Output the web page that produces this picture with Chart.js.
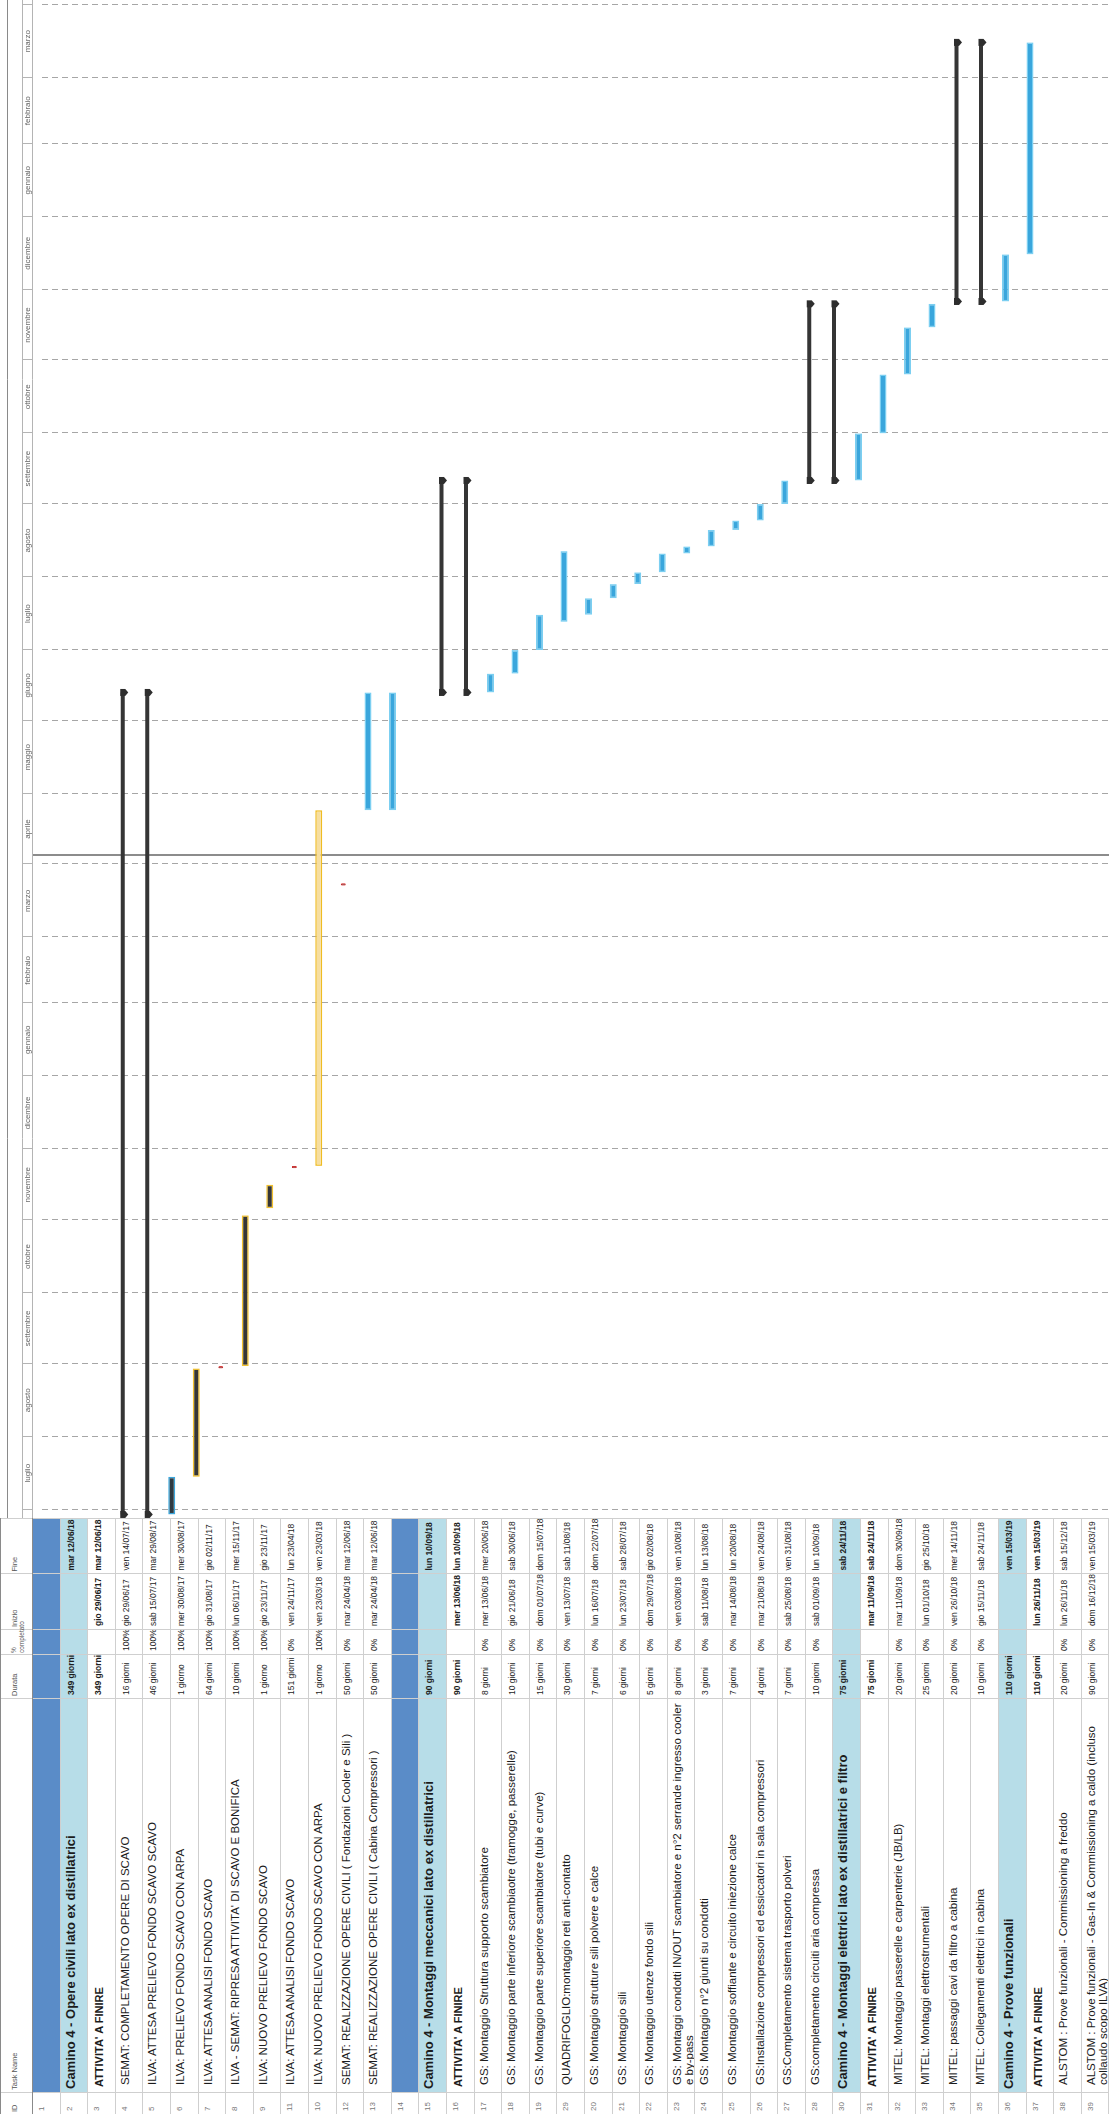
<!DOCTYPE html>
<html>
<head>
<meta charset="utf-8">
<script src="https://cdn.jsdelivr.net/npm/chart.js@4.4.0/dist/chart.umd.min.js"></script>
<style>
    html, body { margin: 0; padding: 0; background: #fff; }
    body { width: 1109px; height: 2114px; overflow: hidden; position: relative; }
    /* the whole Gantt view is laid out in landscape and turned a quarter turn */
    #sheet {
        position: absolute; left: 0; top: 0;
        width: 2114px; height: 1109px;
        transform-origin: 0 0;
        transform: translateY(2114px) rotate(-90deg);
        font-family: "Liberation Sans", Arial, sans-serif;
        background: #fff;
    }
    #table { position: absolute; left: 0; top: 0; width: 596px; height: 1109px; border-right: 1px solid #9a9a9a; box-sizing: border-box; }
    #chartBox { position: absolute; left: 596px; top: 0; width: 1518px; height: 1109px; }
    .row { position: absolute; left: 0; width: 596px; box-sizing: border-box; border-bottom: 1px solid #cfcfcf; }
    .cell { position: absolute; top: 0; height: 100%; box-sizing: border-box; border-right: 1px solid #cfcfcf; overflow: hidden; color: #1c1c1c; }
    .head .cell { font-size: 7.5px; color: #555; padding: 9px 2px 0 2px; line-height: 9px; }
    .head .cell.narrow { font-size: 6.5px; line-height: 8px; padding-left: 1px; overflow: visible; }
    .id { font-size: 8px; color: #777; padding: 4px 0 0 3px; }
    .name { font-size: 11.5px; line-height: 12px; padding-top: 3px; padding-right: 1px; }
    .num { font-size: 8.5px; padding: 5px 0 0 3px; white-space: nowrap; }
    .lvl1 .name { font-size: 13px; font-weight: bold; padding-top: 4px; }
    .lvl2 .name { font-size: 11px; font-weight: bold; padding-top: 5px; }
    .lvl1 .num, .lvl2 .num { font-weight: bold; }
</style>
</head>
<body>
<div id="sheet">
    <div id="table"></div>
    <div id="chartBox"><canvas id="gantt" width="1518" height="1109" style="width:1518px;height:1109px"></canvas></div>
</div>
<script>
// ---- data, in the order the rows are shown ----
const ROW_IDS = [1, 2, 3, 4, 5, 6, 7, 8, 9, 11, 10, 12, 13, 14, 15, 16, 17, 18, 19, 29, 20, 21, 22, 23, 24, 25, 26, 27, 28, 30, 31, 32, 33, 34, 35, 36, 37, 38, 39];

// outline level: 0 = blank band, 1 = phase, 2 = summary, 3 = task
const LEVELS = [0, 1, 2, 3, 3, 3, 3, 3, 3, 3, 3, 3, 3, 0, 1, 2, 3, 3, 3, 3, 3, 3, 3, 3, 3, 3, 3, 3, 3, 1, 2, 3, 3, 3, 3, 1, 2, 3, 3];

const TASK_NAMES = [
    '',
    'Camino 4 - Opere civili lato ex distillatrici',
    "ATTIVITA' A FINIRE",
    'SEMAT: COMPLETAMENTO OPERE DI SCAVO',
    'ILVA: ATTESA PRELIEVO FONDO SCAVO SCAVO',
    'ILVA: PRELIEVO FONDO SCAVO CON ARPA',
    'ILVA: ATTESA ANALISI FONDO SCAVO',
    "ILVA - SEMAT: RIPRESA ATTIVITA' DI SCAVO E BONIFICA",
    'ILVA: NUOVO PRELIEVO FONDO SCAVO',
    'ILVA: ATTESA ANALISI FONDO SCAVO',
    'ILVA: NUOVO PRELIEVO FONDO SCAVO CON ARPA',
    'SEMAT: REALIZZAZIONE OPERE CIVILI ( Fondazioni Cooler e Sili )',
    'SEMAT: REALIZZAZIONE OPERE CIVILI ( Cabina Compressori )',
    '',
    'Camino 4 - Montaggi meccanici lato ex distillatrici',
    "ATTIVITA' A FINIRE",
    'GS: Montaggio Struttura supporto scambiatore',
    'GS: Montaggio parte inferiore scambiaotre (tramogge, passerelle)',
    'GS: Montaggio parte superiore scambiatore (tubi e curve)',
    'QUADRIFOGLIO:montaggio reti anti-contatto',
    'GS: Montaggio strutture sili polvere e calce',
    'GS: Montaggio sili',
    'GS: Montaggio utenze fondo sili',
    'GS: Montaggi condotti IN/OUT scambiatore e n°2 serrande ingresso cooler e by-pass',
    'GS: Montaggio n°2 giunti su condotti',
    'GS: Montaggio soffiante e circuito iniezione calce',
    'GS:Installazione compressori ed essiccatori in sala compressori',
    'GS:Completamento sistema trasporto polveri',
    'GS:completamento circuiti aria compressa',
    'Camino 4 - Montaggi elettrici lato ex distillatrici e filtro',
    "ATTIVITA' A FINIRE",
    'MITEL: Montaggio passerelle e carpenterie (JB/LB)',
    'MITEL: Montaggi elettrostrumentali',
    'MITEL: passaggi cavi da filtro a cabina',
    'MITEL: Collegamenti elettrici in cabina',
    'Camino 4 - Prove funzionali',
    "ATTIVITA' A FINIRE",
    'ALSTOM : Prove funzionali - Commissioning a freddo',
    'ALSTOM : Prove funzionali - Gas-In & Commissioning a caldo (incluso collaudo scopo ILVA)'
];

const DURATIONS = [
    '', '349 giorni', '349 giorni', '16 giorni', '46 giorni', '1 giorno', '64 giorni', '10 giorni', '1 giorno', '151 giorni',
    '1 giorno', '50 giorni', '50 giorni', '', '90 giorni', '90 giorni', '8 giorni', '10 giorni', '15 giorni', '30 giorni',
    '7 giorni', '6 giorni', '5 giorni', '8 giorni', '3 giorni', '7 giorni', '4 giorni', '7 giorni', '10 giorni',
    '75 giorni', '75 giorni', '20 giorni', '25 giorni', '20 giorni', '10 giorni', '110 giorni', '110 giorni', '20 giorni', '90 giorni'
];

const COMPLETE = [
    '', '', '', '100%', '100%', '100%', '100%', '100%', '100%', '0%',
    '100%', '0%', '0%', '', '', '', '0%', '0%', '0%', '0%',
    '0%', '0%', '0%', '0%', '0%', '0%', '0%', '0%', '0%',
    '', '', '0%', '0%', '0%', '0%', '', '', '0%', '0%'
];

const START_TEXT = [
    '', 'gio 29/06/17', 'gio 29/06/17', 'gio 29/06/17', 'sab 15/07/17', 'mer 30/08/17', 'gio 31/08/17', 'lun 06/11/17', 'gio 23/11/17', 'ven 24/11/17',
    'ven 23/03/18', 'mar 24/04/18', 'mar 24/04/18', '', 'mer 13/06/18', 'mer 13/06/18', 'mer 13/06/18', 'gio 21/06/18', 'dom 01/07/18', 'ven 13/07/18',
    'lun 16/07/18', 'lun 23/07/18', 'dom 29/07/18', 'ven 03/08/18', 'sab 11/08/18', 'mar 14/08/18', 'mar 21/08/18', 'sab 25/08/18', 'sab 01/09/18',
    'mar 11/09/18', 'mar 11/09/18', 'mar 11/09/18', 'lun 01/10/18', 'ven 26/10/18', 'gio 15/11/18', 'lun 26/11/18', 'lun 26/11/18', 'lun 26/11/18', 'dom 16/12/18'
];

const FINISH_TEXT = [
    '', 'mar 12/06/18', 'mar 12/06/18', 'ven 14/07/17', 'mar 29/08/17', 'mer 30/08/17', 'gio 02/11/17', 'mer 15/11/17', 'gio 23/11/17', 'lun 23/04/18',
    'ven 23/03/18', 'mar 12/06/18', 'mar 12/06/18', '', 'lun 10/09/18', 'lun 10/09/18', 'mer 20/06/18', 'sab 30/06/18', 'dom 15/07/18', 'sab 11/08/18',
    'dom 22/07/18', 'sab 28/07/18', 'gio 02/08/18', 'ven 10/08/18', 'lun 13/08/18', 'lun 20/08/18', 'ven 24/08/18', 'ven 31/08/18', 'lun 10/09/18',
    'sab 24/11/18', 'sab 24/11/18', 'dom 30/09/18', 'gio 25/10/18', 'mer 14/11/18', 'sab 24/11/18', 'ven 15/03/19', 'ven 15/03/19', 'sab 15/12/18', 'ven 15/03/19'
];

const HEADERS = ['ID', 'Task Name', 'Durata', '%<br>completato', 'Inizio', 'Fine'];
const MONTH_NAMES = ['gennaio', 'febbraio', 'marzo', 'aprile', 'maggio', 'giugno', 'luglio', 'agosto', 'settembre', 'ottobre', 'novembre', 'dicembre'];

// visible time span and status date
const AXIS_FROM = '27/06/17';
const AXIS_TO = '03/04/19';
const STATUS_DATE = '05/04/18';

// ---- helpers ----
function dayOf(text) {
    const m = text.match(/(\d\d)\/(\d\d)\/(\d\d)/);
    return Date.UTC(2000 + Number(m[3]), Number(m[2]) - 1, Number(m[1])) / 86400000;
}

const COLUMNS = [22, 394, 44, 25, 55.5, 55.5];
const HEAD_H = 33;
const ROW_H = 27.6;

function buildTable() {
    const table = document.getElementById('table');
    const lefts = [];
    COLUMNS.reduce((acc, w) => { lefts.push(acc); return acc + w; }, 0);

    const head = document.createElement('div');
    head.className = 'row head';
    head.style.top = '0px';
    head.style.height = HEAD_H + 'px';
    head.style.borderTop = '1px solid #8a8a8a';
    head.style.borderBottom = '1px solid #8a8a8a';
    HEADERS.forEach((h, i) => {
        const c = document.createElement('div');
        c.className = 'cell' + (i === 3 ? ' narrow' : '');
        c.style.left = lefts[i] + 'px';
        c.style.width = COLUMNS[i] + 'px';
        c.innerHTML = h;
        head.appendChild(c);
    });
    table.appendChild(head);

    ROW_IDS.forEach((id, i) => {
        const lvl = LEVELS[i];
        const row = document.createElement('div');
        row.className = 'row lvl' + lvl;
        row.style.top = (HEAD_H + i * ROW_H) + 'px';
        row.style.height = ROW_H + 'px';
        const fill = lvl === 0 ? '#5a8cc8' : (lvl === 1 ? '#b7dde8' : '');
        const values = [id, TASK_NAMES[i], DURATIONS[i], COMPLETE[i], lvl === 1 ? '' : START_TEXT[i], FINISH_TEXT[i]];
        values.forEach((v, j) => {
            const c = document.createElement('div');
            c.className = 'cell ' + (j === 0 ? 'id' : (j === 1 ? 'name' : 'num'));
            c.style.left = lefts[j] + 'px';
            c.style.width = COLUMNS[j] + 'px';
            if (j === 1) c.style.paddingLeft = (lvl === 1 ? 3 : lvl === 2 ? 5 : 7) + 'px';
            if (j > 0 && fill) c.style.background = fill;
            c.textContent = v;
            row.appendChild(c);
        });
        table.appendChild(row);
    });
}

// ---- bars ----
const rows = ROW_IDS.map((id, i) => ({
    row: i + 1,
    level: LEVELS[i],
    name: TASK_NAMES[i],
    dur: DURATIONS[i],
    pct: COMPLETE[i],
    start: START_TEXT[i],
    finish: FINISH_TEXT[i]
}));

const summaryData = [];
const taskData = [];
const dotData = [];
rows.forEach(r => {
    if (r.level === 0) return;
    const s = dayOf(r.start);
    const e = dayOf(r.finish) + 1;
    const kind = (r.name.startsWith('ILVA') ? 'yellow' : 'blue') + (r.pct === '100%' ? 'Done' : '');
    if (r.level < 3) summaryData.push({ x: [s, e], y: r.row });
    else if (r.dur === '1 giorno') dotData.push({ x: [s, e], y: r.row, kind });
    else taskData.push({ x: [s, e], y: r.row, kind });
});

const STYLE = {
    blue: { fill: '#3aa6dc', edge: '#7ccff1' },
    blueDone: { fill: '#2e3a42', edge: '#3aa6dc' },
    yellow: { fill: '#f6dea0', edge: '#efbc22' },
    yellowDone: { fill: '#363636', edge: '#f2c12e' }
};

const ganttDecor = {
    id: 'ganttDecor',
    beforeDatasetsDraw(chart) {
        const { ctx, chartArea: { left, right, top, bottom }, scales: { x } } = chart;
        ctx.save();
        // timescale tiers
        ctx.strokeStyle = '#8a8a8a';
        ctx.lineWidth = 1;
        ctx.beginPath();
        ctx.moveTo(left, 7.5); ctx.lineTo(right, 7.5);
        ctx.stroke();
        ctx.strokeStyle = '#b4b4b4';
        ctx.beginPath();
        ctx.moveTo(left, 22.5); ctx.lineTo(right, 22.5);
        ctx.moveTo(left, top - 0.5); ctx.lineTo(right, top - 0.5);
        ctx.stroke();

        // month boundaries and labels
        const from = new Date(dayOf(AXIS_FROM) * 86400000);
        let y = from.getUTCFullYear(), m = from.getUTCMonth();
        ctx.font = '8px "Liberation Sans", Arial, sans-serif';
        ctx.textAlign = 'center';
        ctx.textBaseline = 'middle';
        for (let k = 0; k < 30; k++) {
            const d0 = Date.UTC(y, m, 1) / 86400000;
            const d1 = Date.UTC(y, m + 1, 1) / 86400000;
            if (d0 > x.max) break;
            const p0 = x.getPixelForValue(d0);
            const p1 = x.getPixelForValue(d1);
            if (d0 >= x.min) {
                const px = Math.round(p0) + 0.5;
                ctx.strokeStyle = '#b4b4b4';
                ctx.setLineDash([]);
                ctx.beginPath();
                ctx.moveTo(px, 23); ctx.lineTo(px, top);
                ctx.stroke();
                ctx.strokeStyle = '#a6a6a6';
                ctx.setLineDash([6, 4]);
                ctx.beginPath();
                ctx.moveTo(px, top + 9); ctx.lineTo(px, bottom);
                ctx.stroke();
            }
            const a = Math.max(p0, left), b = Math.min(p1, right);
            if (b - a > 40) {
                ctx.fillStyle = '#666';
                ctx.fillText(MONTH_NAMES[m], (a + b) / 2, 28);
            }
            m++;
            if (m > 11) { m = 0; y++; }
        }
        ctx.setLineDash([]);

        // status date line
        const sx = Math.round(x.getPixelForValue(dayOf(STATUS_DATE)));
        ctx.strokeStyle = '#8c8c8c';
        ctx.lineWidth = 2;
        ctx.beginPath();
        ctx.moveTo(sx, top); ctx.lineTo(sx, bottom);
        ctx.stroke();
        ctx.restore();
    },
    afterDatasetsDraw(chart) {
        // pentagon caps at both ends of summary bars
        const { ctx } = chart;
        const meta = chart.getDatasetMeta(0);
        ctx.save();
        ctx.fillStyle = '#2e2e2e';
        meta.data.forEach(el => {
            const { x, base, y } = el.getProps(['x', 'base', 'y'], true);
            [Math.min(x, base), Math.max(x, base)].forEach(px => {
                ctx.beginPath();
                ctx.moveTo(px - 3.5, y - 2.5);
                ctx.lineTo(px + 3.5, y - 2.5);
                ctx.lineTo(px + 3.5, y + 2.5);
                ctx.lineTo(px, y + 5.5);
                ctx.lineTo(px - 3.5, y + 2.5);
                ctx.closePath();
                ctx.fill();
            });
        });
        ctx.restore();
    }
};

function buildChart() {
    const canvas = document.getElementById('gantt');
    return new Chart(canvas, {
        type: 'bar',
        data: {
            datasets: [
                {
                    label: 'summary',
                    data: summaryData,
                    backgroundColor: '#353535',
                    borderWidth: 0,
                    barThickness: 4
                },
                {
                    label: 'tasks',
                    data: taskData,
                    backgroundColor: c => STYLE[c.raw.kind].fill,
                    borderColor: c => STYLE[c.raw.kind].edge,
                    borderWidth: 1.5,
                    barThickness: 7
                },
                {
                    label: 'one-day',
                    data: dotData,
                    backgroundColor: '#383838',
                    borderColor: '#d42020',
                    borderWidth: 1,
                    borderRadius: 2,
                    barThickness: 5
                }
            ]
        },
        options: {
            indexAxis: 'y',
            responsive: false,
            animation: false,
            layout: { padding: { top: HEAD_H, left: 0, right: 0, bottom: 0 } },
            datasets: { bar: { grouped: false, borderSkipped: false, inflateAmount: 0 } },
            scales: {
                x: { type: 'linear', display: false, min: dayOf(AXIS_FROM) + 0.5, max: dayOf(AXIS_TO) },
                y: { type: 'linear', display: false, reverse: true, min: 0.783, max: 39.78 }
            },
            plugins: {
                legend: { display: false },
                tooltip: { enabled: false }
            }
        },
        plugins: [ganttDecor]
    });
}

buildTable();
buildChart();
</script>
</body>
</html>
